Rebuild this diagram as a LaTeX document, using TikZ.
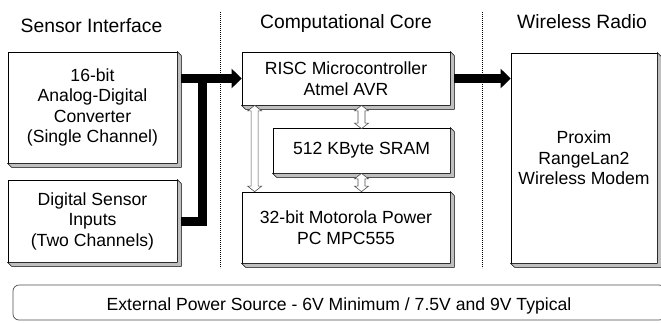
\documentclass[tikz,border=0pt]{standalone}
\usepackage{fontspec}
\setmainfont{Liberation Sans}
\usetikzlibrary{arrows.meta,calc}
\newcommand\bevelbox[1]{\draw[bevel] (#1.south west) -- ([shift={(4,4)}]#1.south west) -- ([shift={(4,4)}]#1.south east) -- ([shift={(4,4)}]#1.north east) -- (#1.north east) -- (#1.south east) -- cycle;}
\newcommand\hollowarrow[2]{\path[hollow] let \p1=(#1), \p2=(#2) in
  (\x1,\y1) -- (\x1+7pt,\y1-5.5pt) -- (\x1+3.5pt,\y1-5.5pt) -- (\x1+3.5pt,\y2+5.5pt) -- (\x1+7pt,\y2+5.5pt) -- (\x1,\y2)
  -- (\x1-7pt,\y2+5.5pt) -- (\x1-3.5pt,\y2+5.5pt) -- (\x1-3.5pt,\y1-5.5pt) -- (\x1-7pt,\y1-5.5pt) -- cycle;}
\begin{document}
\begin{tikzpicture}[x=1pt,y=-1pt,
  box/.style={draw=black,line width=0.7pt,fill=white,align=center,inner sep=0pt,font=\fontsize{17.6}{20.5}\selectfont},
  bevel/.style={draw=black,line width=0.5pt,fill=black!25},
  title/.style={font=\fontsize{19.3}{22}\selectfont,inner sep=0pt,anchor=base},
  divider/.style={line width=0.6pt,dash pattern=on 0.8pt off 1.2pt},
  bus/.style={line width=9pt},
  bushead/.style={-{Triangle[width=19pt,length=10pt]}},
  hollow/.style={draw=black!70,line width=0.6pt,fill=white}]
\path[use as bounding box] (0,0) rectangle (661,322);
\clip (0,0) rectangle (661,322);

% titles
\node[title] (t1) at (91.5,32.5) {Sensor Interface};
\node[title] (t2) at (346,28.3) {Computational Core};
\node[title] (t3) at (582,28.3) {Wireless Radio};

% dividers
\draw[divider] (220,12) -- (220,268);
\draw[divider] (482,12) -- (482,268);

% boxes
\node[box,minimum width=169pt,minimum height=111pt] (adc) at (92.5,107.5) {16-bit\\Analog-Digital\\Converter\\(Single Channel)};
\bevelbox{adc}
\node[box,minimum width=169pt,minimum height=82pt] (dsi) at (92.5,221) {Digital Sensor\\Inputs\\(Two Channels)};
\bevelbox{dsi}
\node[box,minimum width=208pt,minimum height=53pt] (risc) at (346,78.5) {RISC Microcontroller\\Atmel AVR};
\bevelbox{risc}
\node[box,minimum width=177pt,minimum height=45pt] (sram) at (361.5,150.5) {512 KByte SRAM};
\bevelbox{sram}
\node[box,minimum width=208pt,minimum height=71pt] (mpc) at (346,227.5) {32-bit Motorola Power\\PC MPC555};
\bevelbox{mpc}
\node[box,minimum width=146pt,minimum height=210pt] (wl) at (584,158) {Proxim\\RangeLan2\\Wireless Modem};
\bevelbox{wl}

% power
\node[draw=black!70,line width=0.7pt,rounded corners=6pt,minimum width=652pt,minimum height=35pt,inner sep=0pt] (pwr) at (339,302.5) {};
\node[font=\fontsize{17.6}{20.5}\selectfont,inner sep=0pt,anchor=base] (pwrtext) at (339,310) {External Power Source - 6V Minimum / 7.5V and 9V Typical};

% bus arrows
\coordinate (adcE) at ([xshift=4pt]adc.east);
\coordinate (dsiE) at ([xshift=4pt]dsi.east);
\coordinate (riscE) at ([xshift=4pt]risc.east);
\coordinate (jx) at (202,0);
\draw[bus] (dsiE) -| (jx |- risc.west);
\draw[bus,bushead] (adcE |- risc.west) -- (risc.west);
\draw[bus,bushead] (riscE) -- (riscE -| wl.west);

% hollow double arrows
\coordinate (la1) at ($(risc.south west)+(13,0)$);
\coordinate (la2) at ($(mpc.north west)+(13,0)$);
\coordinate (sa1) at (sram.north |- risc.south);
\coordinate (sa2) at ($(sram.north)+(0,1)$);
\coordinate (sb1) at (sram.south);
\coordinate (sb2) at (sram.south |- mpc.north);
\hollowarrow{la1}{la2}
\hollowarrow{sa1}{sa2}
\hollowarrow{sb1}{sb2}
\end{tikzpicture}
\end{document}
